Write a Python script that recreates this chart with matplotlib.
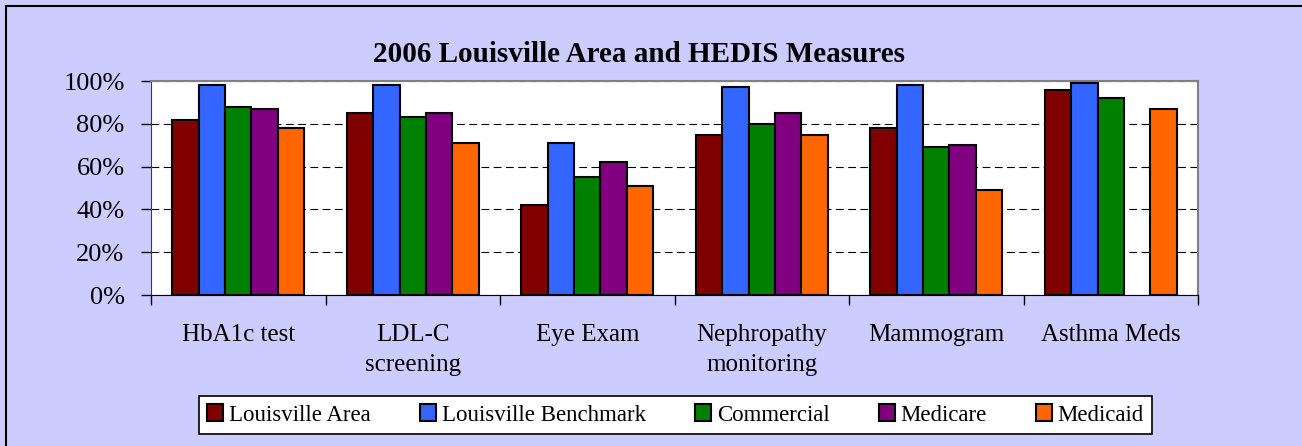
import matplotlib
matplotlib.use('Agg')

import matplotlib.pyplot as plt
import numpy as np
from matplotlib.patches import Rectangle

# data
categories = ["HbA1c test", "LDL-C\nscreening", "Eye Exam", "Nephropathy\nmonitoring",
              "Mammogram", "Asthma Meds"]
series_names = ["Louisville Area", "Louisville Benchmark", "Commercial", "Medicare", "Medicaid"]
louisville_area = [82, 85, 42, 75, 78, 96]
louisville_benchmark = [98, 98, 71, 97, 98, 99]
commercial = [88, 83, 55, 80, 69, 92]
medicare = [87, 85, 62, 85, 70, np.nan]
medicaid = [78, 71, 51, 75, 49, 87]
colors = ["#800000", "#3366FF", "#008000", "#800080", "#FF6600"]

W, H = 1302, 446
plt.rcParams['font.family'] = ['Liberation Serif', 'DejaVu Serif']

fig = plt.figure(figsize=(W / 100, H / 100), dpi=100)
fig.patch.set_facecolor("#CCCCFF")

# outer chart border (only top and left visible in the reference)
fig.add_artist(Rectangle((6 / W, -0.1), 1.2, (H - 6) / H + 0.1, transform=fig.transFigure,
                         facecolor="none", edgecolor="black", linewidth=1.5))

ax = fig.add_axes([151 / W, (H - 295) / H, (1198 - 151) / W, (295 - 81) / H])
ax.set_facecolor("white")

all_series = [louisville_area, louisville_benchmark, commercial, medicare, medicaid]
x = np.arange(len(categories))
w = 0.151
for k, (vals, name, c) in enumerate(zip(all_series, series_names, colors)):
    ax.bar(x + (k - 2) * w, vals, width=w, color=c, edgecolor="black",
           linewidth=1.5, label=name, zorder=3)

ax.set_xlim(-0.5, len(categories) - 0.5)
ax.set_ylim(0, 100)
ax.set_yticks(np.arange(0, 101, 20))
ax.set_yticklabels([f"{v}%" for v in range(0, 101, 20)])
ax.yaxis.grid(True, color="black", linestyle=(0, (7, 4)), linewidth=0.8, zorder=1)

ax.set_xticks(x)
ax.set_xticklabels(categories, linespacing=1.45)
ax.set_xticks(np.arange(-0.5, len(categories) + 0.5, 1), minor=True)
ax.tick_params(axis="x", which="major", length=0, pad=21, labelsize=18)
ax.tick_params(axis="x", which="minor", length=7, width=1, direction="out")
ax.tick_params(axis="y", length=7, width=1, pad=12, labelsize=19)

for s in ["top", "right"]:
    ax.spines[s].set_color("#808080")
    ax.spines[s].set_linewidth(1.5)
ax.spines["left"].set_color("#404040")
ax.spines["bottom"].set_color("black")

fig.text(639 / W, (H - 55) / H, "2006 Louisville Area and HEDIS Measures",
         ha="center", va="center", fontsize=21, fontweight="bold")

handles, labels = ax.get_legend_handles_labels()
leg = fig.legend(handles, labels, loc="center", ncol=5,
                 bbox_to_anchor=(675.5 / W, (H - 415) / H), fontsize=16.5,
                 frameon=True, fancybox=False, edgecolor="black", framealpha=1,
                 handlelength=0.7, handleheight=0.7, handletextpad=0.25,
                 columnspacing=2.15, borderpad=0.35, borderaxespad=0)
leg.get_frame().set_linewidth(1.2)

plt.savefig("out.png", dpi=100, facecolor=fig.get_facecolor())
plt.close()
